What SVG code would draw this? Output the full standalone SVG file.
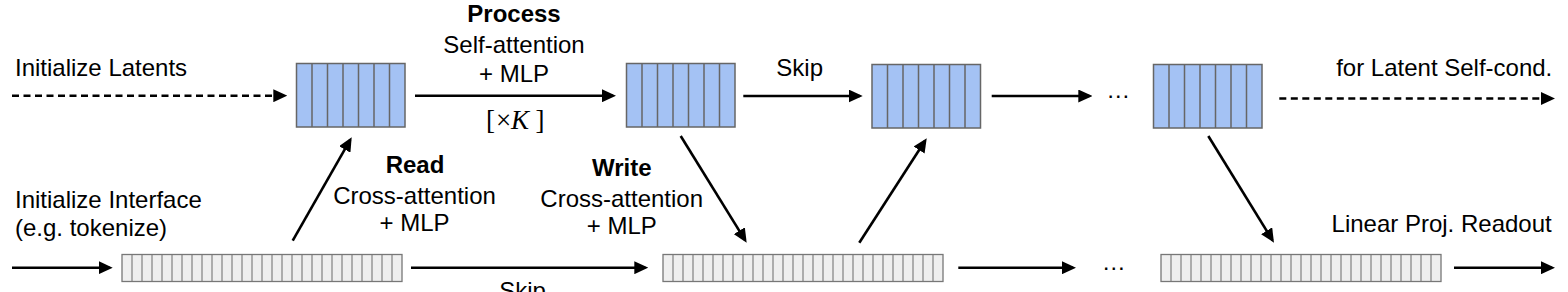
<svg xmlns="http://www.w3.org/2000/svg" xmlns:xlink="http://www.w3.org/1999/xlink" width="1568" height="292" viewBox="0 0 1568 292">
<style>
  text { font-family: "Liberation Sans", Arial, sans-serif; font-size: 24px; fill: #000; }
  .b { font-weight: bold; }
  .c { text-anchor: middle; }
  .e { text-anchor: end; }
  .m { font-family: "Liberation Serif", "Times New Roman", serif; font-size: 27px; }
  .lat rect { fill: #a4c2f4; stroke: #666; stroke-width: 1.5; }
  .lat path { fill: none; stroke: #666; stroke-width: 1.5; }
  .itf rect { fill: #efefef; stroke: #777; stroke-width: 1.3; }
  .itf path { fill: none; stroke: #777; stroke-width: 1.1; }
  .conn line { stroke: #000; stroke-width: 2.6; fill: none; marker-end: url(#ah); }
  .conn line.d { stroke-dasharray: 7 4.5; }
</style>
<defs>
  <marker id="ah" markerUnits="userSpaceOnUse" markerWidth="14" markerHeight="13" refX="11" refY="6.5" orient="auto">
    <path d="M0,0 L14,6.5 L0,13 z" fill="#000"/>
  </marker>
  <g id="latent" class="lat">
    <rect x="0" y="0" width="108.5" height="63.5"/>
    <path d="M15.5,0 v63.5 M31,0 v63.5 M46.5,0 v63.5 M62,0 v63.5 M77.5,0 v63.5 M93,0 v63.5"/>
  </g>
  <g id="iface" class="itf">
    <rect x="0" y="0" width="280" height="27"/>
    <path d="M10,0 v27 m10,-27 v27 m10,-27 v27 m10,-27 v27 m10,-27 v27 m10,-27 v27 m10,-27 v27 m10,-27 v27 m10,-27 v27 m10,-27 v27 m10,-27 v27 m10,-27 v27 m10,-27 v27 m10,-27 v27 m10,-27 v27 m10,-27 v27 m10,-27 v27 m10,-27 v27 m10,-27 v27 m10,-27 v27 m10,-27 v27 m10,-27 v27 m10,-27 v27 m10,-27 v27 m10,-27 v27 m10,-27 v27 m10,-27 v27"/>
  </g>
</defs>
<rect width="1568" height="292" fill="#fff"/>

<g id="latent1"><use xlink:href="#latent" x="296.5" y="63.5"/></g>
<g id="latent2"><use xlink:href="#latent" x="626.5" y="63.5"/></g>
<g id="latent3"><use xlink:href="#latent" x="872" y="64.5"/></g>
<g id="latent4"><use xlink:href="#latent" x="1153.5" y="64.5"/></g>

<g id="iface1"><use xlink:href="#iface" x="122" y="254.5"/></g>
<g id="iface2"><use xlink:href="#iface" x="663" y="254.5"/></g>
<g id="iface3"><use xlink:href="#iface" x="1161" y="254.5"/></g>

<g id="connectors" class="conn">
  <line class="d" x1="12" y1="95.7" x2="284.3" y2="95.7"/>
  <line x1="415" y1="95.7" x2="613" y2="95.7"/>
  <line x1="743.3" y1="96" x2="859.7" y2="96"/>
  <line x1="991.7" y1="96" x2="1089.3" y2="96"/>
  <line class="d" x1="1279.3" y1="98.5" x2="1552" y2="98.5"/>
  <line x1="12" y1="267.7" x2="109.7" y2="267.7"/>
  <line x1="411" y1="267.7" x2="645.3" y2="267.7"/>
  <line x1="958.3" y1="267.7" x2="1073" y2="267.7"/>
  <line x1="1454" y1="267.7" x2="1552" y2="267.7"/>
  <line x1="292.7" y1="240.7" x2="350.2" y2="139.9"/>
  <line x1="680.7" y1="136" x2="745.1" y2="240.1"/>
  <line x1="859.3" y1="242.7" x2="925.1" y2="140.8"/>
  <line x1="1208.3" y1="136" x2="1272.4" y2="240.1"/>
</g>

<g id="labels">
  <text x="15" y="76">Initialize Latents</text>
  <text class="b c" x="514" y="21.7">Process</text>
  <text class="c" x="514" y="53.3">Self-attention</text>
  <text class="c" x="514" y="81.7">+ MLP</text>
  <text class="m" y="128.5"><tspan x="486">[</tspan><tspan x="496">×</tspan><tspan x="511" font-style="italic">K</tspan><tspan x="535.5">]</tspan></text>
  <text class="c" x="799.7" y="76">Skip</text>
  <text class="c" x="1118.3" y="98">…</text>
  <text class="e" x="1552.3" y="76">for Latent Self-cond.</text>
  <text x="15" y="208.3">Initialize Interface</text>
  <text x="15" y="236">(e.g. tokenize)</text>
  <text class="b c" x="415" y="173.3">Read</text>
  <text class="c" x="414.5" y="204">Cross-attention</text>
  <text class="c" x="414.5" y="230.7">+ MLP</text>
  <text class="b c" x="621.7" y="175.7">Write</text>
  <text class="c" x="621.7" y="206.7">Cross-attention</text>
  <text class="c" x="621.8" y="234.3">+ MLP</text>
  <text class="c" x="522.5" y="299">Skip</text>
  <text class="c" x="1113.7" y="270">…</text>
  <text class="e" x="1551.7" y="231.7">Linear Proj. Readout</text>
</g>
</svg>
